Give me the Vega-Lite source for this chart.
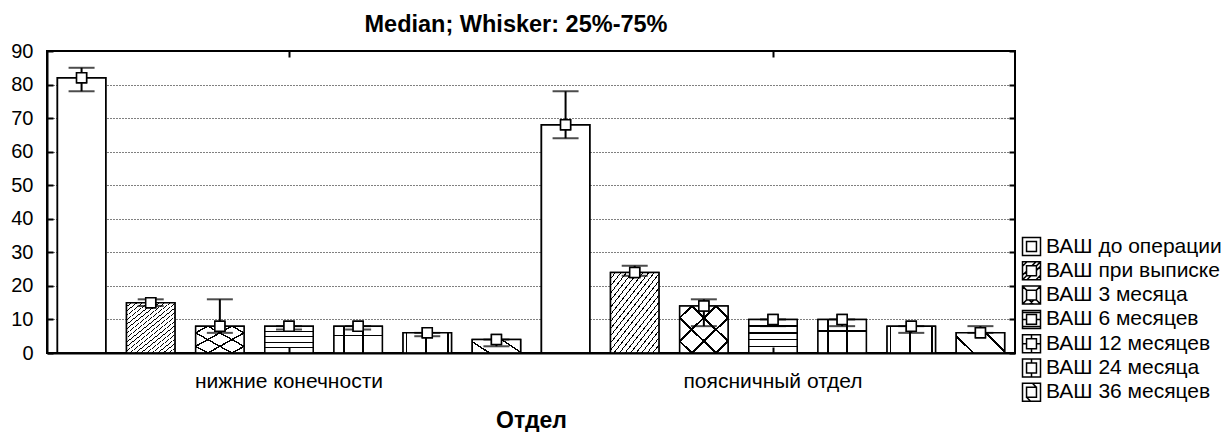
{
  "$schema": "https://vega.github.io/schema/vega-lite/v6.json",
  "width": 968,
  "height": 302,
  "autosize": {"type": "none"},
  "padding": {"left": 47, "top": 51, "right": 208, "bottom": 79},
  "background": "white",
  "title": {"text": "Median; Whisker: 25%-75%", "font": "Liberation Sans", "fontSize": 23.5, "fontWeight": "bold", "color": "black", "anchor": "middle", "frame": "group", "dx": -15, "dy": 32, "baseline": "alphabetic", "offset": 18},
  "config": {
    "font": "Liberation Sans",
    "view": {"stroke": "black", "strokeWidth": 2},
    "axis": {"labelFont": "Liberation Sans", "titleFont": "Liberation Sans", "labelColor": "black", "titleColor": "black"}
  },
  "params": [
    {"name": "gB", "expr": "{gradient:'linear',x1:0,y1:0,x2:0.855,y2:1.11,stops:[{offset:0,color:'white'},{offset:0.04,color:'white'},{offset:0.04,color:'black'},{offset:0.05,color:'black'},{offset:0.05,color:'white'},{offset:0.09,color:'white'},{offset:0.09,color:'black'},{offset:0.1,color:'black'},{offset:0.1,color:'white'},{offset:0.14,color:'white'},{offset:0.14,color:'black'},{offset:0.15,color:'black'},{offset:0.15,color:'white'},{offset:0.19,color:'white'},{offset:0.19,color:'black'},{offset:0.2,color:'black'},{offset:0.2,color:'white'},{offset:0.24,color:'white'},{offset:0.24,color:'black'},{offset:0.25,color:'black'},{offset:0.25,color:'white'},{offset:0.29,color:'white'},{offset:0.29,color:'black'},{offset:0.3,color:'black'},{offset:0.3,color:'white'},{offset:0.34,color:'white'},{offset:0.34,color:'black'},{offset:0.35,color:'black'},{offset:0.35,color:'white'},{offset:0.39,color:'white'},{offset:0.39,color:'black'},{offset:0.4,color:'black'},{offset:0.4,color:'white'},{offset:0.44,color:'white'},{offset:0.44,color:'black'},{offset:0.45,color:'black'},{offset:0.45,color:'white'},{offset:0.49,color:'white'},{offset:0.49,color:'black'},{offset:0.5,color:'black'},{offset:0.5,color:'white'},{offset:0.54,color:'white'},{offset:0.54,color:'black'},{offset:0.55,color:'black'},{offset:0.55,color:'white'},{offset:0.59,color:'white'},{offset:0.59,color:'black'},{offset:0.6,color:'black'},{offset:0.6,color:'white'},{offset:0.64,color:'white'},{offset:0.64,color:'black'},{offset:0.65,color:'black'},{offset:0.65,color:'white'},{offset:0.69,color:'white'},{offset:0.69,color:'black'},{offset:0.7,color:'black'},{offset:0.7,color:'white'},{offset:0.74,color:'white'},{offset:0.74,color:'black'},{offset:0.75,color:'black'},{offset:0.75,color:'white'},{offset:0.79,color:'white'},{offset:0.79,color:'black'},{offset:0.8,color:'black'},{offset:0.8,color:'white'},{offset:0.84,color:'white'},{offset:0.84,color:'black'},{offset:0.85,color:'black'},{offset:0.85,color:'white'},{offset:0.89,color:'white'},{offset:0.89,color:'black'},{offset:0.9,color:'black'},{offset:0.9,color:'white'},{offset:0.94,color:'white'},{offset:0.94,color:'black'},{offset:0.95,color:'black'},{offset:0.95,color:'white'},{offset:0.99,color:'white'},{offset:0.99,color:'black'},{offset:1,color:'black'}]}"},
    {"name": "gC1", "expr": "{gradient:'linear',x1:0,y1:0,x2:1,y2:1,stops:[{offset:0,color:'white'},{offset:0.11,color:'white'},{offset:0.11,color:'black'},{offset:0.14,color:'black'},{offset:0.14,color:'white'},{offset:0.36,color:'white'},{offset:0.36,color:'black'},{offset:0.39,color:'black'},{offset:0.39,color:'white'},{offset:0.61,color:'white'},{offset:0.61,color:'black'},{offset:0.64,color:'black'},{offset:0.64,color:'white'},{offset:0.86,color:'white'},{offset:0.86,color:'black'},{offset:0.89,color:'black'},{offset:0.89,color:'white'},{offset:1,color:'white'}]}"},
    {"name": "gC2", "expr": "{gradient:'linear',x1:0,y1:1,x2:1,y2:0,stops:[{offset:0,color:'rgba(0,0,0,0)'},{offset:0.11,color:'rgba(0,0,0,0)'},{offset:0.11,color:'black'},{offset:0.14,color:'black'},{offset:0.14,color:'rgba(0,0,0,0)'},{offset:0.36,color:'rgba(0,0,0,0)'},{offset:0.36,color:'black'},{offset:0.39,color:'black'},{offset:0.39,color:'rgba(0,0,0,0)'},{offset:0.61,color:'rgba(0,0,0,0)'},{offset:0.61,color:'black'},{offset:0.64,color:'black'},{offset:0.64,color:'rgba(0,0,0,0)'},{offset:0.86,color:'rgba(0,0,0,0)'},{offset:0.86,color:'black'},{offset:0.89,color:'black'},{offset:0.89,color:'rgba(0,0,0,0)'},{offset:1,color:'rgba(0,0,0,0)'}]}"},
    {"name": "gD", "expr": "{gradient:'linear',x1:0,y1:0,x2:0,y2:1,stops:[{offset:0,color:'white'},{offset:0.18,color:'white'},{offset:0.18,color:'black'},{offset:0.22,color:'black'},{offset:0.22,color:'white'},{offset:0.38,color:'white'},{offset:0.38,color:'black'},{offset:0.42,color:'black'},{offset:0.42,color:'white'},{offset:0.58,color:'white'},{offset:0.58,color:'black'},{offset:0.62,color:'black'},{offset:0.62,color:'white'},{offset:0.78,color:'white'},{offset:0.78,color:'black'},{offset:0.82,color:'black'},{offset:0.82,color:'white'},{offset:1,color:'white'}]}"},
    {"name": "gE1", "expr": "{gradient:'linear',x1:0,y1:0,x2:1,y2:0,stops:[{offset:0,color:'white'},{offset:0.18,color:'white'},{offset:0.18,color:'black'},{offset:0.22,color:'black'},{offset:0.22,color:'white'},{offset:0.59,color:'white'},{offset:0.59,color:'black'},{offset:0.63,color:'black'},{offset:0.63,color:'white'},{offset:1,color:'white'}]}"},
    {"name": "gE2", "expr": "{gradient:'linear',x1:0,y1:0,x2:0,y2:1,stops:[{offset:0,color:'rgba(0,0,0,0)'},{offset:0.32,color:'rgba(0,0,0,0)'},{offset:0.32,color:'black'},{offset:0.38,color:'black'},{offset:0.38,color:'rgba(0,0,0,0)'},{offset:1,color:'rgba(0,0,0,0)'}]}"},
    {"name": "gF", "expr": "{gradient:'linear',x1:0,y1:0,x2:1,y2:0,stops:[{offset:0,color:'white'},{offset:0.05,color:'white'},{offset:0.05,color:'black'},{offset:0.09,color:'black'},{offset:0.09,color:'white'},{offset:0.46,color:'white'},{offset:0.46,color:'black'},{offset:0.5,color:'black'},{offset:0.5,color:'white'},{offset:0.9,color:'white'},{offset:0.9,color:'black'},{offset:0.94,color:'black'},{offset:0.94,color:'white'},{offset:1,color:'white'}]}"},
    {"name": "gG", "expr": "{gradient:'linear',x1:0,y1:1,x2:1.21,y2:0.49,stops:[{offset:0,color:'white'},{offset:0.23,color:'white'},{offset:0.23,color:'black'},{offset:0.27,color:'black'},{offset:0.27,color:'white'},{offset:0.7,color:'white'},{offset:0.7,color:'black'},{offset:0.74,color:'black'},{offset:0.74,color:'white'},{offset:1,color:'white'}]}"}
  ],
  "data": {"values": [
    {"dept": "нижние конечности", "series": "ВАШ до операции", "median": 82, "q1": 78, "q3": 85},
    {"dept": "нижние конечности", "series": "ВАШ при выписке", "median": 15, "q1": 14, "q3": 16},
    {"dept": "нижние конечности", "series": "ВАШ 3 месяца", "median": 8, "q1": 6, "q3": 16},
    {"dept": "нижние конечности", "series": "ВАШ 6 месяцев", "median": 8, "q1": 7, "q3": 8},
    {"dept": "нижние конечности", "series": "ВАШ 12 месяцев", "median": 8, "q1": 7, "q3": 8},
    {"dept": "нижние конечности", "series": "ВАШ 24 месяца", "median": 6, "q1": 5, "q3": 6},
    {"dept": "нижние конечности", "series": "ВАШ 36 месяцев", "median": 4, "q1": 2, "q3": 4},
    {"dept": "поясничный отдел", "series": "ВАШ до операции", "median": 68, "q1": 64, "q3": 78},
    {"dept": "поясничный отдел", "series": "ВАШ при выписке", "median": 24, "q1": 23, "q3": 26},
    {"dept": "поясничный отдел", "series": "ВАШ 3 месяца", "median": 14, "q1": 8, "q3": 16},
    {"dept": "поясничный отдел", "series": "ВАШ 6 месяцев", "median": 10, "q1": 8, "q3": 10},
    {"dept": "поясничный отдел", "series": "ВАШ 12 месяцев", "median": 10, "q1": 8, "q3": 10},
    {"dept": "поясничный отдел", "series": "ВАШ 24 месяца", "median": 8, "q1": 6, "q3": 8},
    {"dept": "поясничный отдел", "series": "ВАШ 36 месяцев", "median": 6, "q1": 6, "q3": 8}
  ]},
  "encoding": {
    "x": {"field": "dept", "type": "nominal", "sort": ["нижние конечности", "поясничный отдел"], "scale": {"paddingInner": 0, "paddingOuter": 0}, "axis": null},
    "xOffset": {"field": "series", "type": "nominal", "sort": ["ВАШ до операции", "ВАШ при выписке", "ВАШ 3 месяца", "ВАШ 6 месяцев", "ВАШ 12 месяцев", "ВАШ 24 месяца", "ВАШ 36 месяцев"], "scale": {"paddingInner": 0.3, "paddingOuter": 0.15}},
    "y": {"field": "median", "type": "quantitative", "scale": {"domain": [0, 90], "nice": false}, "axis": null}
  },
  "layer": [
    {
      "mark": {"type": "bar", "fill": "white", "stroke": "black", "strokeWidth": 1.5},
      "encoding": {
        "x": {"field": "dept", "type": "nominal", "sort": ["нижние конечности", "поясничный отдел"], "scale": {"paddingInner": 0, "paddingOuter": 0},
              "axis": {"orient": "bottom", "title": "Отдел", "titleFontSize": 23, "titleFontWeight": "bold", "titlePadding": 18, "labelFontSize": 21, "labelAngle": 0, "labelPadding": 23, "labelLimit": 400, "tickSize": -6, "tickWidth": 2, "tickColor": "black", "domainColor": "black", "domainWidth": 2, "zindex": 1}},
        "y": {"field": "median", "type": "quantitative", "scale": {"domain": [0, 90], "nice": false},
              "axis": {"orient": "left", "title": null, "values": [0, 10, 20, 30, 40, 50, 60, 70, 80, 90], "labelFontSize": 20, "labelPadding": 20, "tickSize": -6, "tickWidth": 2, "tickColor": "black", "domainColor": "black", "domainWidth": 2, "grid": true, "gridColor": "black", "gridDash": [1, 2], "gridWidth": 1, "zindex": 0}}
      }
    },
    {"transform": [{"filter": "datum.series === 'ВАШ при выписке'"}], "mark": {"type": "bar", "strokeWidth": 0, "fill": {"expr": "gB"}}},
    {"transform": [{"filter": "datum.series === 'ВАШ 3 месяца'"}], "mark": {"type": "bar", "strokeWidth": 0, "fill": {"expr": "gC1"}}},
    {"transform": [{"filter": "datum.series === 'ВАШ 3 месяца'"}], "mark": {"type": "bar", "strokeWidth": 0, "fill": {"expr": "gC2"}}},
    {"transform": [{"filter": "datum.series === 'ВАШ 6 месяцев'"}], "mark": {"type": "bar", "strokeWidth": 0, "fill": {"expr": "gD"}}},
    {"transform": [{"filter": "datum.series === 'ВАШ 12 месяцев'"}], "mark": {"type": "bar", "strokeWidth": 0, "fill": {"expr": "gE1"}}},
    {"transform": [{"filter": "datum.series === 'ВАШ 12 месяцев'"}], "mark": {"type": "bar", "strokeWidth": 0, "fill": {"expr": "gE2"}}},
    {"transform": [{"filter": "datum.series === 'ВАШ 24 месяца'"}], "mark": {"type": "bar", "strokeWidth": 0, "fill": {"expr": "gF"}}},
    {"transform": [{"filter": "datum.series === 'ВАШ 36 месяцев'"}], "mark": {"type": "bar", "strokeWidth": 0, "fill": {"expr": "gG"}}},
    {"mark": {"type": "bar", "fill": null, "fillOpacity": 0, "stroke": "black", "strokeWidth": 1.5}},
    {
      "mark": {"type": "rule", "color": "black", "strokeWidth": 2},
      "encoding": {"y": {"field": "q1", "type": "quantitative", "axis": null}, "y2": {"field": "q3"}}
    },
    {
      "mark": {"type": "tick", "color": "black", "size": 26, "thickness": 2},
      "encoding": {"y": {"field": "q1", "type": "quantitative", "axis": null}}
    },
    {
      "mark": {"type": "tick", "color": "black", "size": 26, "thickness": 2},
      "encoding": {"y": {"field": "q3", "type": "quantitative", "axis": null}}
    },
    {
      "mark": {"type": "point", "filled": false, "color": "black", "strokeWidth": 1.5, "size": 100, "opacity": 1},
      "encoding": {
        "shape": {"field": "series", "type": "nominal", "sort": ["ВАШ до операции", "ВАШ при выписке", "ВАШ 3 месяца", "ВАШ 6 месяцев", "ВАШ 12 месяцев", "ВАШ 24 месяца", "ВАШ 36 месяцев"],
          "scale": {"range": [
            "M-1,-1H1V1H-1Z M-0.55,-0.55H0.55V0.55H-0.55Z",
            "M-1,-1H1V1H-1Z M-0.55,-0.55H0.55V0.55H-0.55Z M-1,-0.5L-0.5,-1 M0.5,1L1,0.5 M-1,1L-0.55,0.55 M0.55,-0.55L1,-1 M-0.5,1L-0.05,0.55 M0.55,-0.05L1,-0.5 M-1,0.5L-0.55,0.05 M0.05,-0.55L0.5,-1",
            "M-1,-1H1V1H-1Z M-0.55,-0.55H0.55V0.55H-0.55Z M-1,-1L-0.55,-0.55 M0.55,0.55L1,1 M-1,1L-0.55,0.55 M0.55,-0.55L1,-1 M-0.25,0.55L0.2,1 M0.25,0.55L-0.2,1",
            "M-1,-1H1V1H-1Z M-0.55,-0.55H0.55V0.55H-0.55Z M-1,-0.78H1 M-1,0.78H1 M-1,0H-0.55 M0.55,0H1",
            "M-1,-1H1V1H-1Z M-0.55,-0.55H0.55V0.55H-0.55Z M0,-1V-0.55 M0,0.55V1 M-1,0H-0.55 M0.55,0H1",
            "M-1,-1H1V1H-1Z M-0.55,-0.55H0.55V0.55H-0.55Z M0,-1V-0.55 M0,0.55V1",
            "M-1,-1H1V1H-1Z M-0.55,-0.55H0.55V0.55H-0.55Z M0.1,-1L0.55,-0.55 M-0.55,0.55L-0.1,1"
          ]},
          "legend": {"orient": "none", "legendX": 974, "legendY": 185, "title": null, "symbolSize": 324, "symbolOpacity": 1, "symbolStrokeColor": "black", "symbolStrokeWidth": 1.5, "labelFontSize": 21, "labelFont": "Liberation Sans", "labelColor": "black", "labelOffset": 4, "rowPadding": -0.7, "labelLimit": 300,
            "encode": {"symbols": {"update": {"size": {"value": 324}, "opacity": {"value": 1}, "stroke": {"value": "black"}, "strokeWidth": {"value": 1.5}}}}}
        }
      }
    },
    {
      "mark": {"type": "point", "shape": "square", "filled": true, "fill": "white", "stroke": "black", "strokeWidth": 1.5, "size": 100, "opacity": 1},
      "encoding": {
        "x": {"field": "dept", "type": "nominal", "sort": ["нижние конечности", "поясничный отдел"],
              "axis": {"orient": "top", "title": null, "labels": false, "domain": false, "grid": false, "tickSize": -6, "tickWidth": 2, "tickColor": "black", "zindex": 1}},
        "y": {"field": "median", "type": "quantitative",
              "axis": {"orient": "right", "title": null, "labels": false, "domain": false, "grid": false, "values": [0, 10, 20, 30, 40, 50, 60, 70, 80, 90], "tickSize": -6, "tickWidth": 2, "tickColor": "black", "zindex": 1}}
      }
    }
  ],
  "resolve": {"axis": {"x": "independent", "y": "independent"}}
}
